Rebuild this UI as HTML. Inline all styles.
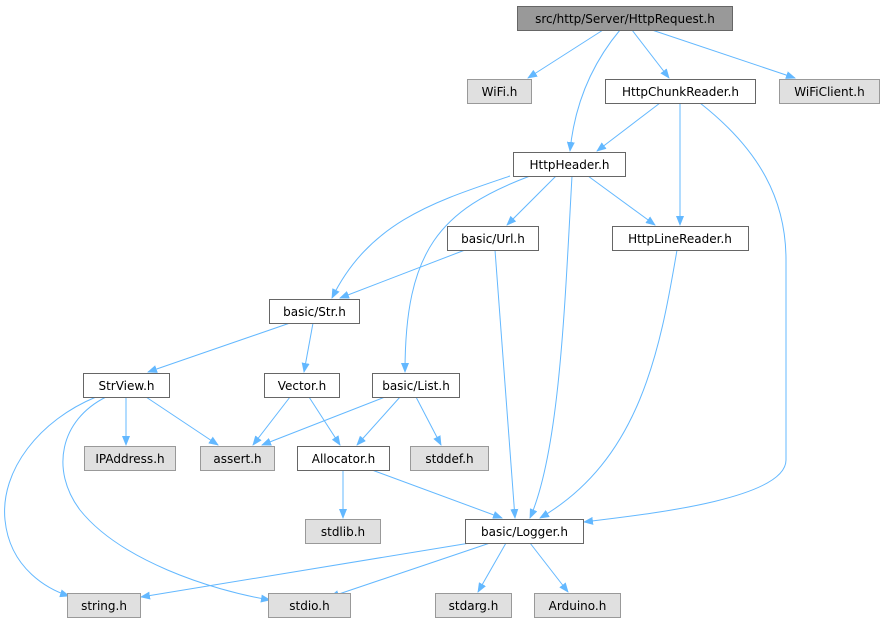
<!DOCTYPE html>
<html><head><meta charset="utf-8"><style>
body{margin:0;background:#fff;}
svg{display:block;}
text{font-family:"DejaVu Sans","Liberation Sans",sans-serif;font-size:12px;fill:#000;}
</style></head><body>
<svg width="885" height="623" viewBox="0 0 885 623" xmlns="http://www.w3.org/2000/svg">
<defs><marker id="a" markerWidth="10" markerHeight="8" refX="9" refY="4" orient="auto" markerUnits="userSpaceOnUse"><path d="M0,0 L10,4 L0,8 Z" fill="#63b8ff"/></marker></defs>
<g fill="none" stroke="#63b8ff" stroke-width="1" marker-end="url(#a)">
<path d="M603,30 L528,78"/>
<path d="M620,30 C595,60 575,100 570,151"/>
<path d="M632,30 L669,78"/>
<path d="M652,30 L795,78"/>
<path d="M660,103 L597,151"/>
<path d="M680,103 L680,225"/>
<path d="M700,103 C760,150 786,200 786,260 L786,460 C786,500 640,515 584,522"/>
<path d="M556,176 L507,225"/>
<path d="M588,176 L655,225"/>
<path d="M510,176 C440,200 370,220 332,298"/>
<path d="M530,176 C440,210 405,250 405,372"/>
<path d="M572,176 C565,300 560,450 530,518"/>
<path d="M465,250 L340,298"/>
<path d="M495,250 L515,518"/>
<path d="M677,250 C660,350 640,460 540,518"/>
<path d="M290,323 L148,372"/>
<path d="M313,323 L304,372"/>
<path d="M126,397 L126,445"/>
<path d="M146,397 L218,445"/>
<path d="M96,397 C40,420 0,470 5,520 C10,570 50,590 69,596"/>
<path d="M106,397 C60,420 50,470 80,510 C120,560 210,590 270,600"/>
<path d="M290,397 L253,445"/>
<path d="M309,397 L340,445"/>
<path d="M385,397 L262,445"/>
<path d="M400,397 L357,445"/>
<path d="M416,397 L441,445"/>
<path d="M343,470 L343,518"/>
<path d="M372,470 L502,518"/>
<path d="M470,543 L141,597"/>
<path d="M490,543 L330,597"/>
<path d="M506,543 L478,592"/>
<path d="M530,543 L568,592"/>
</g>
<g stroke-width="1">
<rect x="517.5" y="6.5" width="215" height="24" fill="#999" stroke="#666"/>
<rect x="467.5" y="79.5" width="64" height="24" fill="#e0e0e0" stroke="#999"/>
<rect x="605.5" y="79.5" width="150" height="24" fill="#fff" stroke="#666"/>
<rect x="779.5" y="79.5" width="100" height="24" fill="#e0e0e0" stroke="#999"/>
<rect x="513.5" y="152.5" width="112" height="24" fill="#fff" stroke="#666"/>
<rect x="447.5" y="226.5" width="91" height="24" fill="#fff" stroke="#666"/>
<rect x="612.5" y="226.5" width="136" height="24" fill="#fff" stroke="#666"/>
<rect x="269.5" y="299.5" width="90" height="24" fill="#fff" stroke="#666"/>
<rect x="83.5" y="373.5" width="86" height="24" fill="#fff" stroke="#666"/>
<rect x="264.5" y="373.5" width="75" height="24" fill="#fff" stroke="#666"/>
<rect x="372.5" y="373.5" width="87" height="24" fill="#fff" stroke="#666"/>
<rect x="84.5" y="446.5" width="91" height="24" fill="#e0e0e0" stroke="#999"/>
<rect x="200.5" y="446.5" width="74" height="24" fill="#e0e0e0" stroke="#999"/>
<rect x="297.5" y="446.5" width="92" height="24" fill="#fff" stroke="#666"/>
<rect x="410.5" y="446.5" width="78" height="24" fill="#e0e0e0" stroke="#999"/>
<rect x="305.5" y="519.5" width="75" height="24" fill="#e0e0e0" stroke="#999"/>
<rect x="465.5" y="519.5" width="118" height="24" fill="#fff" stroke="#666"/>
<rect x="67.5" y="593.5" width="73" height="24" fill="#e0e0e0" stroke="#999"/>
<rect x="268.5" y="593.5" width="82" height="24" fill="#e0e0e0" stroke="#999"/>
<rect x="435.5" y="593.5" width="76" height="24" fill="#e0e0e0" stroke="#999"/>
<rect x="534.5" y="593.5" width="86" height="24" fill="#e0e0e0" stroke="#999"/>
</g>
<g text-anchor="middle">
<text x="625" y="23">src/http/Server/HttpRequest.h</text>
<text x="499.5" y="96">WiFi.h</text>
<text x="680.5" y="96">HttpChunkReader.h</text>
<text x="829.5" y="96">WiFiClient.h</text>
<text x="569.5" y="169">HttpHeader.h</text>
<text x="493" y="243">basic/Url.h</text>
<text x="680" y="243">HttpLineReader.h</text>
<text x="314.5" y="316">basic/Str.h</text>
<text x="126.5" y="390">StrView.h</text>
<text x="302" y="390">Vector.h</text>
<text x="416" y="390">basic/List.h</text>
<text x="130" y="463">IPAddress.h</text>
<text x="237.5" y="463">assert.h</text>
<text x="343.5" y="463">Allocator.h</text>
<text x="449.5" y="463">stddef.h</text>
<text x="343" y="536">stdlib.h</text>
<text x="524.5" y="536">basic/Logger.h</text>
<text x="104" y="610">string.h</text>
<text x="309.5" y="610">stdio.h</text>
<text x="473.5" y="610">stdarg.h</text>
<text x="577.5" y="610">Arduino.h</text>
</g>
</svg>
</body></html>
